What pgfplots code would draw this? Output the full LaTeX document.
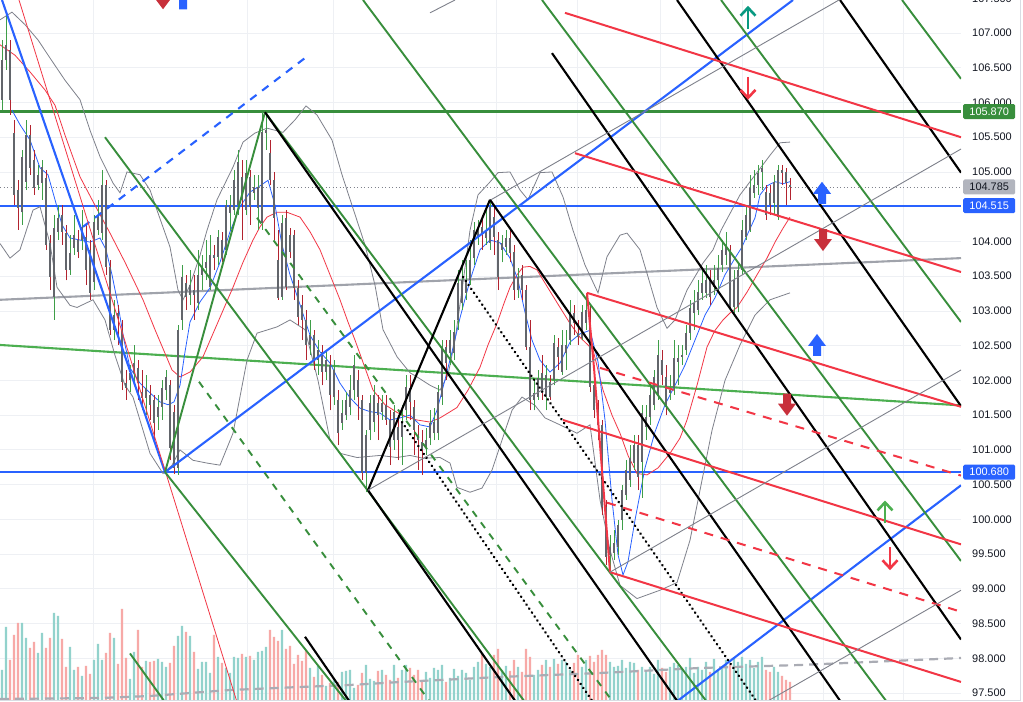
\documentclass[border=0pt]{standalone}
\usepackage{fontspec}
\setmainfont{Liberation Sans}
\usepackage{pgfplots}
\usepackage{pgfplotstable}
\pgfplotsset{compat=1.18}

\definecolor{wickup}{HTML}{3E9E48}
\definecolor{wickdn}{HTML}{B2232F}
\definecolor{candlebody}{HTML}{62656B}
\definecolor{volup}{HTML}{92D2CC}
\definecolor{voldn}{HTML}{F7A9A7}
\definecolor{tvblue}{HTML}{2962FF}
\definecolor{tvred}{HTML}{F23645}
\definecolor{tvgreen}{HTML}{388E3C}
\definecolor{ltgreen}{HTML}{4CAF50}
\definecolor{thickgray}{HTML}{A0A3AB}
\definecolor{thingray}{HTML}{7E818B}
\definecolor{tvteal}{HTML}{089981}
\definecolor{blockred}{HTML}{C8303B}
\definecolor{labtext}{HTML}{131722}
\definecolor{gridc}{HTML}{EEF0F4}
\definecolor{graybox}{HTML}{B2B5BE}
\definecolor{edgec}{HTML}{D9DCE3}

% daily candles: x position, open, high, low, close, volume
\pgfplotstableread{
x o h l c v
2 106.04 106.90 105.89 106.61 30
6 106.61 107.26 106.47 106.83 73
10 106.76 106.90 105.82 106.04 40
14 105.56 105.75 104.52 104.67 65
18 104.74 104.88 104.17 104.48 77
22 104.42 105.32 104.24 105.22 77
26 104.86 105.75 104.74 105.53 62
30 105.53 105.68 104.96 105.06 52
34 105.17 105.32 104.67 104.77 58
38 104.81 105.10 104.74 104.96 47
42 104.84 105.17 104.60 105.07 67
46 104.91 105.03 103.88 103.95 52
50 103.98 104.09 103.30 103.49 62
54 103.20 104.38 102.87 104.19 87
58 104.14 104.52 104.02 104.34 84
62 104.38 104.52 103.95 104.14 61
66 104.12 104.24 103.44 103.59 33
70 103.59 104.09 103.52 103.83 53
74 103.91 104.38 103.81 104.09 30
78 104.02 104.17 103.76 103.85 33
82 104.02 104.45 103.88 104.21 24
86 104.06 104.24 103.37 103.59 34
90 103.88 104.02 103.16 103.26 26
94 103.42 104.38 103.30 104.28 40
98 104.17 104.60 104.09 104.35 56
102 104.12 105.03 104.02 104.81 40
106 104.81 104.88 103.52 103.63 47
110 103.63 103.73 102.65 102.73 67
114 102.73 103.16 102.58 102.94 62
118 102.97 103.09 102.51 102.91 36
122 102.73 102.87 101.86 101.98 91
126 101.96 102.15 101.72 101.89 42
130 102.01 102.22 101.83 102.11 21
134 102.11 102.51 101.93 102.25 48
138 102.18 102.29 101.72 101.96 70
142 101.83 102.15 101.57 101.75 33
146 101.75 102.08 101.50 101.89 39
150 101.79 101.93 101.43 101.65 38
154 101.72 101.79 101.14 101.39 39
158 101.47 101.79 101.29 101.62 41
162 101.62 102.01 101.43 101.89 38
166 101.86 102.15 101.72 102.05 33
170 101.93 102.01 100.85 101.03 37
174 101.55 101.65 100.65 100.74 54
178 100.74 102.80 100.64 102.73 64
182 102.87 103.66 102.73 103.49 74
186 103.40 103.52 103.01 103.20 68
190 103.23 103.59 103.09 103.37 64
194 103.30 103.52 102.87 103.23 48
198 103.11 103.88 103.01 103.52 31
202 103.52 103.80 103.30 103.62 38
206 103.62 104.02 103.44 103.70 38
210 103.34 104.09 103.30 103.81 27
214 103.81 103.95 103.59 103.76 65
218 103.78 104.17 103.66 104.06 43
222 104.02 104.14 103.70 103.76 37
226 103.88 104.60 103.81 104.52 32
230 104.41 104.67 104.17 104.52 27
234 104.45 105.03 104.38 104.88 43
238 104.52 105.32 104.38 105.14 42
242 104.93 105.17 104.02 104.60 46
246 104.45 105.17 104.38 104.99 43
250 104.93 105.03 104.24 104.50 44
254 104.70 104.96 104.60 104.78 40
258 104.48 104.96 104.17 104.78 48
262 104.27 105.86 104.17 105.58 49
266 105.56 105.86 105.32 105.60 53
270 105.27 105.46 104.81 104.88 70
274 104.88 105.00 104.02 104.34 63
278 103.73 104.17 103.16 103.19 59
282 103.20 104.38 103.16 104.27 70
286 104.34 104.45 103.30 103.34 51
290 104.09 104.19 103.76 103.85 54
294 104.09 104.17 103.16 103.33 36
298 103.33 103.44 102.80 102.91 45
302 103.09 103.23 102.58 102.87 39
306 102.87 103.01 102.29 102.51 49
310 102.51 102.87 102.37 102.65 32
314 102.65 102.73 102.15 102.29 23
318 102.29 102.58 102.08 102.44 34
322 102.41 102.51 101.93 102.12 25
326 102.12 102.44 102.01 102.29 14
330 102.22 102.37 101.57 101.79 17
334 101.76 102.29 101.65 102.15 21
338 101.72 101.86 101.07 101.24 18
342 101.39 101.72 101.29 101.53 28
346 101.50 101.83 101.43 101.72 29
350 101.62 102.08 101.50 101.86 30
354 101.86 102.37 101.72 102.22 12
358 102.01 102.15 101.43 101.76 15
362 101.72 101.79 100.57 100.67 27
366 100.67 101.29 100.39 101.21 35
370 101.29 101.79 101.14 101.67 21
374 101.40 101.93 101.26 101.79 19
378 101.67 101.79 101.14 101.50 29
382 101.55 101.79 101.43 101.67 30
386 101.65 101.79 101.36 101.43 25
390 101.43 101.57 100.78 101.04 20
394 101.14 101.65 101.00 101.55 35
398 101.33 101.50 100.85 101.14 22
402 101.19 101.65 100.78 101.39 30
406 101.57 102.08 101.43 101.91 35
410 101.89 102.08 101.43 101.69 32
414 101.62 101.72 100.93 101.29 25
418 101.21 101.36 100.71 101.14 30
422 101.11 101.29 100.64 101.00 20
426 101.03 101.32 100.93 101.14 28
430 101.17 101.57 101.07 101.39 22
434 101.24 101.60 101.14 101.40 32
438 101.24 101.93 101.14 101.83 30
442 101.76 102.58 101.65 102.48 35
446 102.48 102.58 102.01 102.25 18
450 102.39 102.73 102.22 102.58 22
454 102.39 102.87 102.29 102.70 31
458 102.87 103.59 102.73 103.40 24
462 103.11 103.73 103.01 103.44 30
466 103.26 103.73 103.16 103.44 27
470 103.44 104.02 103.37 103.73 20
474 103.76 104.28 103.66 104.17 33
478 104.06 104.31 103.95 104.17 38
482 104.21 104.38 103.88 104.09 47
486 104.05 104.45 103.95 104.17 36
490 103.98 104.60 103.88 104.50 33
494 104.35 104.52 103.81 104.06 45
498 104.02 104.14 103.30 103.49 51
502 103.88 104.09 103.70 103.98 30
506 103.92 104.17 103.81 104.05 34
510 104.05 104.17 103.70 103.83 29
514 103.85 103.95 103.16 103.30 40
518 103.30 103.62 103.19 103.49 33
522 103.52 103.66 103.16 103.30 28
526 103.30 103.37 102.44 102.48 51
530 102.48 102.87 101.57 101.72 43
534 101.72 102.01 101.57 101.82 25
538 101.76 102.15 101.72 102.03 30
542 102.11 102.37 101.72 101.82 35
546 101.76 102.22 101.57 102.08 40
550 101.98 102.08 101.72 101.76 33
554 102.01 102.65 101.93 102.54 41
558 102.48 102.61 102.15 102.34 36
562 102.12 102.73 102.08 102.51 40
566 102.39 102.73 102.15 102.51 38
570 102.58 103.16 102.51 102.98 30
574 102.97 103.09 102.65 102.83 37
578 102.68 102.87 102.51 102.62 45
582 102.61 103.09 102.58 102.98 33
586 102.83 103.23 102.73 103.01 40
590 102.83 103.09 101.83 101.91 44
594 101.93 102.15 101.46 101.57 38
598 101.57 101.72 101.14 101.36 45
602 101.36 101.43 100.06 100.18 50
606 100.18 100.28 99.34 99.46 45
610 99.49 99.78 99.23 99.60 38
614 99.52 99.85 99.42 99.66 33
618 99.60 99.99 99.49 99.92 34
622 99.99 100.49 99.85 100.42 40
626 100.35 100.85 100.28 100.71 32
630 100.57 101.07 100.47 100.88 38
634 100.81 101.21 100.71 101.07 37
638 101.07 101.21 100.42 100.61 30
642 100.83 101.65 100.31 101.53 33
646 101.33 101.65 101.14 101.47 28
650 101.47 101.93 101.36 101.79 33
654 101.65 102.15 101.57 102.05 26
658 101.79 102.58 101.72 102.37 40
662 102.29 102.44 101.93 102.08 32
666 102.05 102.22 101.50 101.62 28
670 101.82 102.08 101.72 101.86 33
674 101.89 102.58 101.79 102.32 37
678 102.27 102.51 101.93 102.32 35
682 102.34 102.51 102.22 102.37 30
686 102.44 102.80 102.37 102.68 33
690 102.68 103.16 102.58 103.04 42
694 102.97 103.30 102.73 103.11 27
698 103.01 103.44 102.94 103.27 33
702 103.26 103.59 103.16 103.40 30
706 103.26 103.66 103.19 103.44 38
710 103.44 103.59 103.09 103.20 28
714 103.34 103.66 103.23 103.44 41
718 103.44 103.80 103.30 103.62 30
722 103.66 104.02 103.56 103.88 33
726 103.81 104.14 103.66 103.95 40
730 103.88 103.95 103.01 103.05 35
734 103.05 103.59 102.97 103.44 42
738 103.05 103.70 102.98 103.59 38
742 103.59 104.31 103.52 104.17 43
746 104.06 104.52 104.02 104.38 36
750 104.17 104.96 104.14 104.77 40
754 104.70 105.03 104.63 104.81 32
758 104.81 105.10 104.67 104.99 38
762 105.00 105.17 104.74 105.06 43
766 104.71 104.81 104.31 104.38 30
770 104.70 104.81 104.38 104.52 28
774 104.55 104.96 104.38 104.86 33
778 104.35 105.10 104.31 105.03 28
782 105.03 105.10 104.81 104.99 24
786 105.00 105.06 104.52 104.84 20
790 104.81 104.91 104.60 104.785 18
}\candles

\pgfplotsset{
  chart/.style={scale only axis, width=961bp, height=700bp,
    xmin=0, xmax=961, at={(0bp,2bp)}, anchor=south west},
  price/.style={chart, ymin=97.4, ymax=107.475},
  green line/.style={tvgreen, line width=1.9bp},
  black line/.style={black, line width=2.1bp},
  red line/.style={tvred, line width=2bp},
  dotted line/.style={black, line width=2.5bp, line cap=round, dash pattern=on 0.4bp off 4.4bp},
}

\newcommand\blockup[3]{\fill[#3] (axis cs:#1,#2) ++(-4bp,-11bp) -- ++(8bp,0bp) -- ++(0bp,10bp) -- ++(5bp,0bp) -- ++(-9bp,12bp) -- ++(-9bp,-12bp) -- ++(5bp,0bp) -- cycle;}
\newcommand\blockdown[3]{\fill[#3] (axis cs:#1,#2) ++(-4bp,11bp) -- ++(8bp,0bp) -- ++(0bp,-10bp) -- ++(5bp,0bp) -- ++(-9bp,-12bp) -- ++(-9bp,12bp) -- ++(5bp,0bp) -- cycle;}
\newcommand\thinup[3]{\draw[#3, line width=2.6bp] (axis cs:#1,#2) ++(0bp,-11bp) -- ++(0bp,20bp);
  \draw[#3, line width=2.6bp] (axis cs:#1,#2) ++(-7.5bp,2bp) -- ++(7.5bp,8bp) -- ++(7.5bp,-8bp);}
\newcommand\thindown[3]{\draw[#3, line width=2.6bp] (axis cs:#1,#2) ++(0bp,11bp) -- ++(0bp,-20bp);
  \draw[#3, line width=2.6bp] (axis cs:#1,#2) ++(-7.5bp,-2bp) -- ++(7.5bp,-8bp) -- ++(7.5bp,8bp);}

\begin{document}
\begin{tikzpicture}
\fill[white] (0,0) rectangle (1023bp,702bp);
\useasboundingbox (0,0) rectangle (1023bp,702bp);

% grid and price scale
\begin{axis}[price,
  axis line style={draw=none}, tick style={draw=none}, major tick length=0pt,
  xtick=\empty,
  ytick={97.5,98,98.5,99,99.5,100,100.5,101,101.5,102,102.5,103,103.5,104,105,105.5,106,106.5,107},
  yticklabels={97.500,98.000,98.500,99.000,99.500,100.000,100.500,101.000,101.500,102.000,102.500,103.000,103.500,104.000,105.000,105.500,106.000,106.500,107.000},
  extra y ticks={104.5}, extra y tick labels={},
  yticklabel pos=right,
  yticklabel style={anchor=west, inner sep=0pt, xshift=11bp, text=labtext, font=\fontsize{11}{13}\selectfont},
  ymajorgrids, major grid style={draw=gridc, line width=0.8bp}]
\foreach \gx in {93,247,333,496,577,660,742,823,903}
  {\edef\temp{\noexpand\draw[gridc, line width=0.8bp] (axis cs:\gx,97.4) -- (axis cs:\gx,107.475);}\temp}
\end{axis}

% volume pane
\begin{axis}[chart, ymin=0, ymax=700, hide axis]
\addplot[ybar, bar width=2.4bp, bar shift=0pt, fill=volup, draw=none,
  restrict expr to domain={\thisrow{c}-\thisrow{o}}{0:100}] table[x=x, y=v] {\candles};
\addplot[ybar, bar width=2.4bp, bar shift=0pt, fill=voldn, draw=none,
  restrict expr to domain={\thisrow{c}-\thisrow{o}}{-100:-0.00001}] table[x=x, y=v] {\candles};
\addplot[thickgray!90, line width=2.2bp, dash pattern=on 9bp off 6bp] coordinates {
  (0,1) (100,2) (150,4) (230,10) (300,13) (350,15) (400,18) (500,23) (600,27) (700,32) (800,35) (961,42)};
\end{axis}

% horizontal levels, bands and averages
\begin{axis}[price, hide axis]
\addplot[tvgreen, line width=2.1bp] coordinates {(0,105.87) (961,105.87)};
\addplot[tvblue, line width=2.1bp] coordinates {(0,104.515) (961,104.515)};
\addplot[tvblue, line width=2.1bp] coordinates {(0,100.68) (961,100.68)};
\addplot[thingray, line width=0.7bp, dash pattern=on 1bp off 2.5bp] coordinates {(0,104.785) (961,104.785)};
\addplot[thickgray, line width=2.1bp] coordinates {(0,103.16) (961,103.76)};
\addplot[ltgreen, line width=2.1bp] coordinates {(0,102.51) (961,101.64)};
\addplot[thingray, line width=0.8bp] coordinates {
(0,107.19) (12,107.30) (25,107.12) (38,106.90) (50,106.64) (65,106.32) (80,106.04) (90,105.60) (100,105.22) (113,104.84) (120,104.70) (127,105.00) (140,104.96) (150,104.74) (157,104.45) (170,103.92) (178,103.30) (183,103.16) (190,103.37) (200,103.80) (207,104.16) (217,104.60) (233,105.07) (243,105.43) (255,105.56) (267,105.63) (283,105.57) (295,105.75) (306,105.95) (317,105.82) (332,105.46) (342,104.96) (352,104.52) (365,103.95) (375,103.37) (383,102.73) (397,102.34) (410,102.11) (417,102.05) (430,101.93) (440,101.86) (448,102.08) (455,102.58) (462,103.30) (470,104.16) (478,104.67) (489,104.84) (498,104.99) (510,105.00) (520,104.74) (528,104.60) (540,104.99) (552,105.00) (563,104.64) (573,104.16) (585,103.66) (598,103.26) (607,103.78) (620,104.09) (627,104.12) (640,103.88) (647,103.54) (657,103.05) (667,102.75) (675,102.87) (687,103.30) (703,103.69) (713,103.88) (721,104.16) (740,104.67) (759,105.03) (770,105.24) (780,105.42) (790,105.43)};
\addplot[thingray, line width=0.8bp] coordinates {
(0,103.97) (10,103.76) (20,103.88) (33,104.45) (40,104.50) (50,103.97) (57,103.34) (70,103.08) (77,103.05) (93,103.16) (105,102.87) (115,102.36) (125,101.93) (133,101.76) (150,100.95) (163,100.66) (172,100.78) (180,101.00) (193,100.85) (207,100.81) (220,100.78) (233,101.24) (247,102.29) (257,102.68) (277,102.77) (290,102.87) (305,102.73) (318,102.00) (330,101.14) (340,100.95) (357,100.89) (380,100.92) (397,100.89) (410,100.92) (423,100.88) (440,100.89) (450,100.81) (457,100.46) (470,100.39) (482,100.45) (492,100.71) (502,101.14) (512,101.57) (522,101.76) (535,101.64) (545,101.46) (560,101.36) (577,101.24) (590,101.36) (600,100.28) (610,99.56) (620,99.05) (637,98.86) (660,98.98) (677,99.09) (690,99.70) (700,100.42) (712,101.28) (725,102.00) (740,102.51) (755,102.94) (770,103.16) (790,103.26)};
\addplot[tvred, line width=0.8bp] coordinates {
(0,106.83) (15,106.68) (30,106.44) (45,106.18) (55,105.96) (65,105.53) (80,104.93) (95,104.52) (110,104.12) (125,103.70) (143,103.16) (155,102.73) (165,102.39) (172,102.15) (180,102.05) (190,102.12) (203,102.34) (218,102.84) (233,103.34) (243,103.70) (253,104.02) (260,104.21) (267,104.35) (277,104.42) (287,104.42) (300,104.35) (310,104.14) (320,103.88) (330,103.52) (340,103.16) (348,102.84) (355,102.58) (363,102.26) (373,101.86) (385,101.65) (397,101.54) (407,101.47) (417,101.43) (430,101.40) (440,101.46) (448,101.53) (457,101.61) (468,101.86) (480,102.19) (488,102.51) (497,102.82) (504,103.11) (510,103.34) (517,103.52) (523,103.63) (530,103.64) (537,103.59) (548,103.33) (560,103.05) (570,102.82) (580,102.62) (593,102.44) (603,101.86) (612,101.50) (620,101.24) (628,100.92) (637,100.66) (647,100.64) (658,100.74) (670,100.95) (680,101.17) (687,101.43) (697,101.93) (707,102.48) (715,102.72) (723,102.87) (730,102.97) (737,103.05) (747,103.27) (757,103.52) (767,103.76) (775,103.99) (783,104.19) (790,104.35)};
\addplot[tvblue, line width=0.8bp] coordinates {
(12,105.89) (20,105.68) (30,105.46) (40,105.06) (48,104.96) (55,104.60) (62,104.24) (70,104.05) (80,104.02) (90,103.99) (100,104.05) (106,103.88) (112,103.52) (118,103.09) (124,102.58) (130,102.18) (140,101.96) (150,101.82) (160,101.69) (168,101.65) (174,101.69) (180,101.93) (185,102.41) (190,102.84) (200,103.13) (210,103.33) (220,103.70) (230,104.14) (240,104.50) (250,104.71) (260,104.80) (268,104.88) (275,104.52) (282,103.95) (290,103.52) (300,103.09) (310,102.65) (320,102.41) (330,102.25) (340,101.96) (350,101.75) (360,101.60) (370,101.55) (380,101.53) (390,101.43) (400,101.46) (410,101.50) (420,101.36) (430,101.33) (437,101.57) (445,102.01) (452,102.41) (460,102.90) (470,103.44) (480,103.88) (490,104.02) (500,103.98) (510,103.76) (518,103.44) (525,102.98) (532,102.58) (540,102.29) (550,102.12) (560,102.25) (570,102.55) (580,102.67) (590,102.72) (598,102.27) (605,101.43) (612,100.28) (618,99.49) (623,99.20) (628,99.39) (635,99.99) (645,100.74) (655,101.26) (665,101.65) (675,101.93) (685,102.22) (695,102.58) (705,102.94) (715,103.19) (725,103.52) (735,103.76) (742,103.92) (748,104.12) (755,104.34) (760,104.67) (767,104.80) (775,104.86) (783,104.83) (790,104.86)};
\end{axis}

% candles: wicks then bodies, drawn as vertical segments
\begin{axis}[price, hide axis]
\addplot[quiver={u=0, v=\thisrow{h}-\thisrow{l}}, draw=wickup, line width=0.9bp, mark=none,
  restrict expr to domain={\thisrow{c}-\thisrow{o}}{0:100}]
  table[x=x, y=l] {\candles};
\addplot[quiver={u=0, v=\thisrow{h}-\thisrow{l}}, draw=wickdn, line width=0.9bp, mark=none,
  restrict expr to domain={\thisrow{c}-\thisrow{o}}{-100:-0.00001}]
  table[x=x, y=l] {\candles};
\addplot[quiver={u=0, v=\thisrow{c}-\thisrow{o}}, draw=candlebody, line width=2.6bp, mark=none]
  table[x=x, y=o] {\candles};
\end{axis}

% trend lines and pitchforks
\begin{axis}[price, hide axis]
\addplot[tvblue, line width=2.1bp] coordinates {(2,107.475) (165,100.68) (793,107.475)};
\addplot[tvblue, line width=2.1bp] coordinates {(676,97.37) (961,100.49)};
\addplot[tvblue, line width=2.1bp, dash pattern=on 8bp off 7bp] coordinates {(83,104.21) (305,106.64)};
\addplot[tvred, line width=0.8bp] coordinates {(19,107.475) (237,97.37)};
\addplot[green line] coordinates {(165,100.68) (265,105.86)};
\addplot[green line] coordinates {(105,105.50) (525,97.37)};
\addplot[green line] coordinates {(265,105.86) (707,97.37)};
\addplot[green line] coordinates {(165,100.68) (347,97.37)};
\addplot[green line] coordinates {(130,98.07) (165,97.37)};
\addplot[green line] coordinates {(363,107.475) (887,97.37)};
\addplot[green line] coordinates {(542,107.475) (961,99.40)};
\addplot[green line] coordinates {(721,107.475) (961,102.84)};
\addplot[green line] coordinates {(902,107.475) (961,106.34)};
\addplot[green line, dash pattern=on 7bp off 7bp] coordinates {(199,101.98) (430,97.37)};
\addplot[green line, dash pattern=on 7bp off 7bp] coordinates {(257,104.34) (613,97.37)};
\addplot[black line] coordinates {(368,100.42) (490,104.60)};
\addplot[black line] coordinates {(265,105.86) (678,97.37)};
\addplot[black line] coordinates {(368,100.42) (516,97.37)};
\addplot[black line] coordinates {(490,104.60) (841,97.37)};
\addplot[black line] coordinates {(552,106.71) (961,98.27)};
\addplot[black line] coordinates {(677,107.475) (961,101.63)};
\addplot[black line] coordinates {(840,107.475) (961,104.99)};
\addplot[black line] coordinates {(305,98.31) (350,97.37)};
\addplot[dotted line] coordinates {(463,103.49) (757,97.37)};
\addplot[dotted line] coordinates {(402,101.40) (593,97.37)};
\addplot[red line] coordinates {(565,107.29) (961,105.50)};
\addplot[red line] coordinates {(575,105.27) (961,103.56)};
\addplot[red line] coordinates {(587,103.26) (961,101.62)};
\addplot[red line] coordinates {(587,103.26) (594,102.18) (610,99.24)};
\addplot[red line] coordinates {(563,101.43) (961,99.64)};
\addplot[red line] coordinates {(610,99.24) (961,97.66)};
\addplot[red line, dash pattern=on 9bp off 8bp] coordinates {(600,102.18) (961,100.63)};
\addplot[red line, dash pattern=on 9bp off 8bp] coordinates {(607,100.24) (961,98.67)};
\addplot[thingray, line width=0.9bp] coordinates {(430,107.29) (455,107.475)};
\addplot[thingray, line width=0.9bp] coordinates {(491,104.60) (839,107.475)};
\addplot[thingray, line width=0.9bp] coordinates {(368,100.42) (961,105.33)};
\addplot[thingray, line width=0.9bp] coordinates {(610,99.24) (961,102.15)};
\addplot[thingray, line width=0.9bp] coordinates {(766,97.37) (961,98.98)};
\end{axis}

% signal arrows and price labels
\begin{axis}[price, hide axis, clip=false]
\blockdown{163}{107.50}{blockred}
\blockup{183}{107.50}{tvblue}
\thinup{748}{107.22}{tvteal}
\thindown{748}{106.21}{tvred}
\blockup{822}{104.70}{tvblue}
\blockdown{823}{104.02}{blockred}
\blockup{817}{102.51}{tvblue}
\blockdown{787}{101.65}{blockred}
\thinup{885}{100.10}{ltgreen}
\thindown{890}{99.44}{tvred}
\node[anchor=west, inner sep=0pt, xshift=11bp, text=labtext, font=\fontsize{11}{13}\selectfont] at (axis cs:961,107.5) {107.500};
\node[anchor=west, xshift=2bp, fill=tvgreen, text=white, rounded corners=1.5bp, minimum width=52bp, minimum height=15bp, inner sep=0pt, font=\fontsize{11}{13}\selectfont] at (axis cs:961,105.87) {105.870};
\node[anchor=west, xshift=2bp, fill=graybox, text=labtext, rounded corners=1.5bp, minimum width=52bp, minimum height=15bp, inner sep=0pt, font=\fontsize{11}{13}\selectfont] at (axis cs:961,104.785) {104.785};
\node[anchor=west, xshift=2bp, fill=tvblue, text=white, rounded corners=1.5bp, minimum width=52bp, minimum height=15bp, inner sep=0pt, font=\fontsize{11}{13}\selectfont] at (axis cs:961,104.515) {104.515};
\node[anchor=west, xshift=2bp, fill=tvblue, text=white, rounded corners=1.5bp, minimum width=52bp, minimum height=15bp, inner sep=0pt, font=\fontsize{11}{13}\selectfont] at (axis cs:961,100.68) {100.680};
\end{axis}

\draw[edgec, line width=1bp] (0,1.5bp) -- (1020.5bp,1.5bp) -- (1020.5bp,702bp);
\end{tikzpicture}
\end{document}
